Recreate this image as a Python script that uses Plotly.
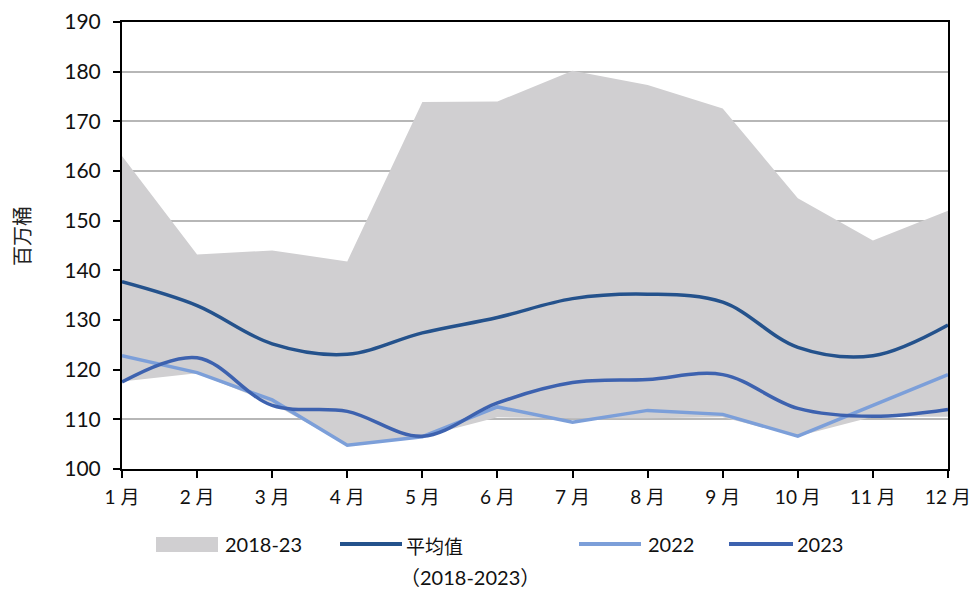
import plotly.graph_objects as go

# Monthly inventory (million barrels)
months = list(range(1, 13))
month_labels = [f"{m} 月" for m in months]

range_max = [163.0, 143.2, 144.0, 141.8, 173.9, 174.0, 180.2, 177.3, 172.6, 154.5, 146.0, 152.0]
range_min = [117.6, 119.3, 113.2, 104.8, 106.5, 110.4, 110.2, 110.2, 110.4, 106.6, 110.5, 110.5]
avg_2018_2023 = [137.7, 132.9, 125.2, 123.1, 127.4, 130.5, 134.3, 135.2, 133.6, 124.5, 122.8, 129.0]
y2022 = [122.8, 119.4, 113.9, 104.8, 106.5, 112.5, 109.4, 111.8, 111.0, 106.6, 112.8, 119.0]
y2023 = [117.5, 122.4, 112.8, 111.6, 106.6, 113.3, 117.4, 118.0, 119.0, 112.2, 110.6, 112.0]

y_ticks = list(range(100, 191, 10))

FILL = "#D0CFD1"
C_AVG = "#24528C"
C_2022 = "#7C9FD9"
C_2023 = "#3D62AF"
GRID = "#B7B7B7"

W, H = 977, 589
L, R, T, B = 122, 29, 22, 120
PW, PH = W - L - R, H - T - B


def px(x):
    return (x - L) / PW


def py(y):
    return (H - B - y) / PH


fig = go.Figure()

# range band: lower bound then upper bound filled down to it
fig.add_trace(go.Scatter(x=months, y=range_min, mode="lines",
                         line=dict(width=0, color=FILL), hoverinfo="skip",
                         showlegend=False))
fig.add_trace(go.Scatter(x=months, y=range_max, mode="lines", fill="tonexty",
                         fillcolor=FILL, line=dict(width=0, color=FILL),
                         name="2018-23", showlegend=False))

fig.add_trace(go.Scatter(x=months, y=avg_2018_2023, mode="lines",
                         line=dict(color=C_AVG, width=3.5, shape="spline", smoothing=1.0),
                         name="平均值（2018-2023）", showlegend=False))
fig.add_trace(go.Scatter(x=months, y=y2022, mode="lines",
                         line=dict(color=C_2022, width=3.5),
                         name="2022", showlegend=False))
fig.add_trace(go.Scatter(x=months, y=y2023, mode="lines",
                         line=dict(color=C_2023, width=3.5, shape="spline", smoothing=1.0),
                         name="2023", showlegend=False))

TICKFONT = dict(family="Lato, 'Noto Sans CJK SC', sans-serif", size=21, color="#111111")

fig.update_xaxes(range=[1, 12], tickvals=months, ticktext=month_labels,
                 showgrid=False, zeroline=False, automargin=False,
                 showline=True, linecolor="black", linewidth=2, mirror=True,
                 ticks="outside", ticklen=7, tickwidth=2, tickcolor="black",
                 ticklabelstandoff=3,
                 tickfont=dict(family="Lato, 'Noto Sans CJK SC', sans-serif", size=19, color="#111111"))
fig.update_yaxes(range=[100, 190], tickvals=y_ticks,
                 showgrid=True, gridcolor=GRID, gridwidth=2, zeroline=False, automargin=False,
                 showline=True, linecolor="black", linewidth=2, mirror=True,
                 ticks="outside", ticklen=7, tickwidth=2, tickcolor="black",
                 ticklabelstandoff=8,
                 tickfont=TICKFONT)

shapes = []
annotations = []

# y-axis title
annotations.append(dict(text="百万桶", x=px(21), y=py(236), xref="paper", yref="paper",
                        xanchor="center", yanchor="middle",
                        showarrow=False, textangle=-90,
                        font=dict(family="'Noto Sans CJK SC', sans-serif", size=20, color="#222222")))

# legend row
LEG_Y = 544
LEGFONT = dict(family="Lato, 'Noto Sans CJK SC', sans-serif", size=20, color="#111111")
CJKFONT = dict(family="'Noto Sans CJK SC', sans-serif", size=19, color="#111111")

shapes.append(dict(type="rect", xref="paper", yref="paper",
                   x0=px(156), x1=px(218), y0=py(552), y1=py(537),
                   fillcolor=FILL, line=dict(width=0)))
annotations.append(dict(text="2018-23", x=px(223), y=py(LEG_Y), xref="paper", yref="paper",
                        xanchor="left", yanchor="middle", showarrow=False, font=LEGFONT))

for x0, x1, col in [(340, 402, C_AVG), (579, 641, C_2022), (729, 793, C_2023)]:
    shapes.append(dict(type="line", xref="paper", yref="paper",
                       x0=px(x0), x1=px(x1), y0=py(LEG_Y), y1=py(LEG_Y),
                       line=dict(color=col, width=4)))

annotations.append(dict(text="平均值", x=px(404), y=py(LEG_Y + 1), xref="paper", yref="paper",
                        xanchor="left", yanchor="middle", showarrow=False, font=CJKFONT))
annotations.append(dict(text="（2018-2023）", x=px(470), y=py(577), xref="paper", yref="paper",
                        xanchor="center", yanchor="middle", showarrow=False, font=LEGFONT))
annotations.append(dict(text="2022", x=px(646), y=py(LEG_Y), xref="paper", yref="paper",
                        xanchor="left", yanchor="middle", showarrow=False, font=LEGFONT))
annotations.append(dict(text="2023", x=px(795), y=py(LEG_Y), xref="paper", yref="paper",
                        xanchor="left", yanchor="middle", showarrow=False, font=LEGFONT))

fig.update_layout(width=W, height=H,
                  margin=dict(l=L, r=R, t=T, b=B),
                  paper_bgcolor="white", plot_bgcolor="white",
                  showlegend=False, shapes=shapes, annotations=annotations)

fig.write_html("out.html")
